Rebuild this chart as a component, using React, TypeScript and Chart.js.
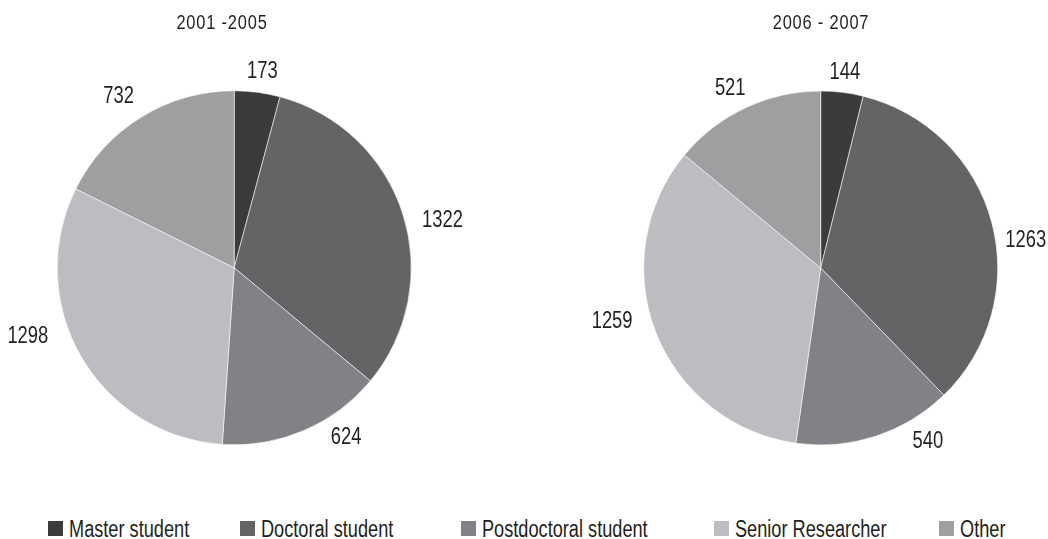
import React, { useEffect, useRef } from 'react';
import { Chart, registerables } from 'chart.js';

Chart.register(...registerables);

// ---- data ----
const categories = ['Master student', 'Doctoral student', 'Postdoctoral student', 'Senior Researcher', 'Other'];
const counts2001to2005 = [173, 1322, 624, 1298, 732];
const counts2006to2007 = [144, 1263, 540, 1259, 521];
const periodTitles = ['2001 -2005', '2006 - 2007'];
const sliceColors = ['#3a3b3d', '#636466', '#818285', '#bcbdc0', '#9e9fa1'];

// ---- styling / layout ----
// Liberation Sans squeezed horizontally gives a narrow grotesque face
const FONT = '"Liberation Sans", Arial, sans-serif';
const TEXT_COLOR = '#231f20';
const LABEL_SIZE = 23;
const LABEL_SQUEEZE = 0.8;
const TITLE_SQUEEZE = 0.82;
const LEGEND_SIZE = 23;
const LEGEND_SQUEEZE = 0.79;

// value labels: angular turn from the slice mid-angle (degrees) and gap past the rim (px)
const labelPlacement2001 = { turn: [0.6, 4.4, -10.4, 11.8, -2.0], gap: [23, 37, 25, 40, 31] };
const labelPlacement2006 = { turn: [0, 7.1, -14.0, 7.1, -1.3], gap: [22, 30, 25, 38, 26] };

const CANVAS_W = 524;
const CANVAS_H = 490;

// legend swatch left edges
const legendSlots = [48, 240, 460.5, 714, 939];

// Draws each slice's value outside the pie.
const outerLabels = {
  id: 'outerLabels',
  afterDatasetsDraw(chart: any, _args: any, opts: any) {
    const { ctx } = chart;
    const meta = chart.getDatasetMeta(0);
    const values = chart.data.datasets[0].data as number[];
    meta.data.forEach((arc: any, i: number) => {
      const { startAngle, endAngle, outerRadius, x, y } = arc.getProps(
        ['startAngle', 'endAngle', 'outerRadius', 'x', 'y'],
        true
      );
      const a = (startAngle + endAngle) / 2 + ((opts.turn[i] || 0) * Math.PI) / 180;
      const d = outerRadius + (opts.gap[i] || 0);
      const lx = x + Math.cos(a) * d;
      const ly = y + Math.sin(a) * d;
      ctx.save();
      ctx.translate(lx, ly);
      ctx.scale(opts.squeeze, 1);
      ctx.font = `${opts.size}px ${FONT}`;
      ctx.fillStyle = opts.color;
      ctx.textAlign = 'center';
      ctx.textBaseline = 'alphabetic';
      // shift so the digits' vertical centre sits on the anchor
      ctx.fillText(String(values[i]), 0, opts.size * 0.358);
      ctx.restore();
    });
  },
};

type PieProps = {
  values: number[];
  placement: { turn: number[]; gap: number[] };
  left: number;
  padding: { left: number; top: number; right: number; bottom: number };
};

function PeriodPie({ values, placement, left, padding }: PieProps) {
  const ref = useRef<HTMLCanvasElement>(null);
  useEffect(() => {
    const chart = new Chart(ref.current as HTMLCanvasElement, {
      type: 'pie',
      data: {
        labels: categories,
        datasets: [
          {
            data: values,
            backgroundColor: sliceColors,
            borderColor: 'rgba(255,255,255,0.55)',
            borderWidth: 1,
            hoverBorderWidth: 1,
            hoverOffset: 0,
            offset: 0,
          } as any,
        ],
      },
      options: {
        responsive: false,
        animation: false,
        events: [],
        layout: { padding },
        plugins: {
          legend: { display: false },
          title: { display: false },
          tooltip: { enabled: false },
          outerLabels: {
            ...placement,
            size: LABEL_SIZE,
            squeeze: LABEL_SQUEEZE,
            color: TEXT_COLOR,
          },
        } as any,
      },
      plugins: [outerLabels],
    });
    return () => chart.destroy();
  }, []);
  return (
    <canvas
      ref={ref}
      width={CANVAS_W}
      height={CANVAS_H}
      style={{ position: 'absolute', left, top: 0, width: CANVAS_W, height: CANVAS_H }}
    />
  );
}

const titleStyle = (centerX: number): React.CSSProperties => ({
  position: 'absolute',
  left: centerX - 100,
  top: 12,
  width: 200,
  textAlign: 'center',
  font: `20px ${FONT}`,
  lineHeight: '20px',
  letterSpacing: '1px',
  color: TEXT_COLOR,
  whiteSpace: 'nowrap',
  transform: `scaleX(${TITLE_SQUEEZE})`,
  transformOrigin: '100px 50%',
});

export default function App() {
  return (
    <div
      style={{
        position: 'absolute',
        left: 0,
        top: 0,
        width: 1048,
        height: 539,
        overflow: 'hidden',
        background: '#ffffff',
      }}
    >
      <PeriodPie
        values={counts2001to2005}
        placement={labelPlacement2001}
        left={0}
        padding={{ left: 56.7, top: 90.3, right: 112.3, bottom: 44.7 }}
      />
      <PeriodPie
        values={counts2006to2007}
        placement={labelPlacement2006}
        left={CANVAS_W}
        padding={{ left: 119.2, top: 90.5, right: 49.8, bottom: 44.5 }}
      />
      <div style={titleStyle(222)}>{periodTitles[0]}</div>
      <div style={titleStyle(821)}>{periodTitles[1]}</div>
      {categories.map((name, i) => (
        <div key={name}>
          <div
            style={{
              position: 'absolute',
              left: legendSlots[i],
              top: 521,
              width: 15,
              height: 15,
              background: sliceColors[i],
            }}
          />
          <div
            style={{
              position: 'absolute',
              left: legendSlots[i] + 21,
              top: 518,
              font: `${LEGEND_SIZE}px ${FONT}`,
              lineHeight: `${LEGEND_SIZE}px`,
              color: TEXT_COLOR,
              whiteSpace: 'nowrap',
              transform: `scaleX(${LEGEND_SQUEEZE})`,
              transformOrigin: '0 50%',
            }}
          >
            {name}
          </div>
        </div>
      ))}
    </div>
  );
}
